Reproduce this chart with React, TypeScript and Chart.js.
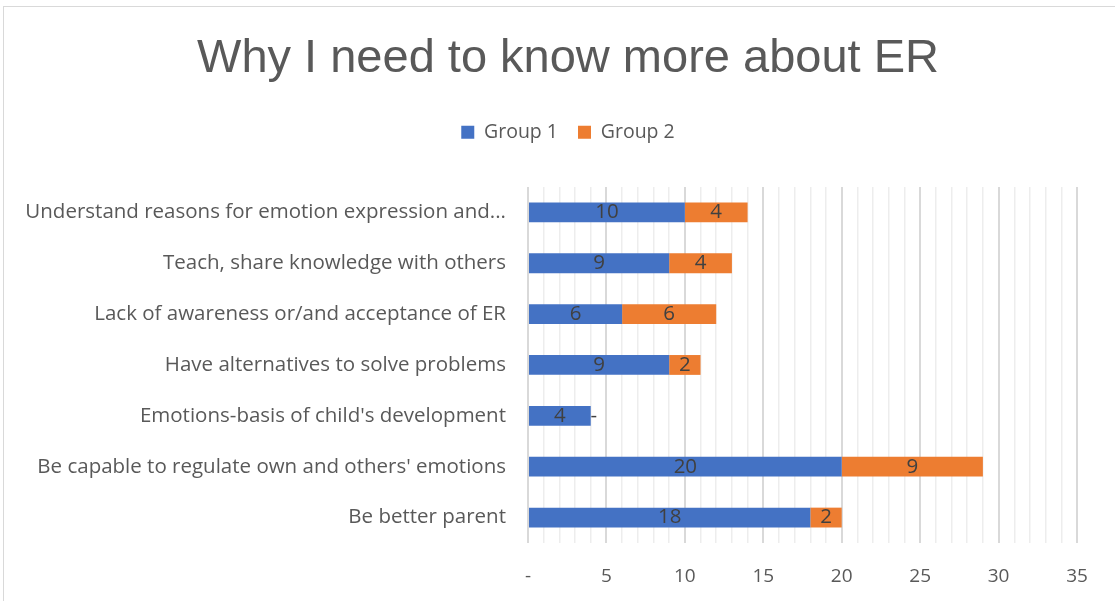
import React, { useEffect, useRef } from "react";
import { Chart, registerables } from "chart.js";

Chart.register(...registerables);

const categories = [
  "Understand reasons for emotion expression and...",
  "Teach, share knowledge with others",
  "Lack of awareness or/and acceptance of ER",
  "Have alternatives to solve problems",
  "Emotions-basis of child's development",
  "Be capable to regulate own and others' emotions",
  "Be better parent",
];
const group1 = [10, 9, 6, 9, 4, 20, 18];
const group2 = [4, 4, 6, 2, 0, 9, 2];
const xTickLabels: Record<number, string> = { 0: "-", 5: "5", 10: "10", 15: "15", 20: "20", 25: "25", 30: "30", 35: "35" };

const FONT = "'Open Sans', 'Liberation Sans', sans-serif";
const TITLE_FONT = "'Liberation Sans', sans-serif";
const TEXT = "#595959";

const labelPlugin = {
  id: "segLabels",
  afterDatasetsDraw(chart: any) {
    const ctx = chart.ctx;
    ctx.save();
    ctx.font = `20.5px ${FONT}`;
    ctx.fillStyle = "#404040";
    ctx.textAlign = "center";
    ctx.textBaseline = "middle";
    chart.data.datasets.forEach((ds: any, di: number) => {
      const meta = chart.getDatasetMeta(di);
      meta.data.forEach((bar: any, i: number) => {
        const v = ds.data[i];
        const cx = (bar.x + bar.base) / 2;
        if (v === 0) {
          ctx.fillText("-", cx + 3, bar.y);
        } else {
          ctx.fillText(String(v), cx, bar.y);
        }
      });
    });
    ctx.restore();
  },
};

const hidden = {
  display: true,
  ticks: { display: false },
  grid: { display: false, drawTicks: false },
  border: { display: false },
};

export default function App() {
  const ref = useRef<HTMLCanvasElement>(null);
  useEffect(() => {
    const chart = new Chart(ref.current!, {
      type: "bar",
      data: {
        labels: categories,
        datasets: [
          { label: "Group 1", data: group1, backgroundColor: "#4472C4", barPercentage: 0.39, categoryPercentage: 1, xAxisID: "x", yAxisID: "y" },
          { label: "Group 2", data: group2, backgroundColor: "#ED7D31", barPercentage: 0.39, categoryPercentage: 1, xAxisID: "x", yAxisID: "y" },
        ],
      },
      options: {
        indexAxis: "y",
        animation: false,
        responsive: false,
        maintainAspectRatio: false,
        layout: { padding: { left: 21, right: 0, top: 0, bottom: 0 } },
        plugins: {
          title: {
            display: true,
            text: "Why I need to know more about ER",
            color: TEXT,
            font: { family: TITLE_FONT, size: 47, weight: "normal" },
            padding: { top: 31, bottom: 15 },
          },
          legend: {
            display: true,
            labels: {
              color: TEXT,
              font: { family: FONT, size: 19.5 },
              boxWidth: 13,
              boxHeight: 13,
              padding: 20,
            },
          },
          tooltip: { enabled: false },
        },
        scales: {
          xTop: {
            type: "linear",
            position: "top",
            ...hidden,
            afterFit: (scale: any) => {
              scale.height = 35;
            },
          },
          yRight: {
            type: "linear",
            position: "right",
            ...hidden,
            afterFit: (scale: any) => {
              scale.width = 38;
            },
          },
          x: {
            type: "linear",
            stacked: true,
            min: 0,
            max: 35,
            position: "bottom",
            ticks: {
              stepSize: 1,
              autoSkip: false,
              maxRotation: 0,
              color: TEXT,
              font: { family: FONT, size: 19 },
              padding: 22,
              callback: (v: any) => (xTickLabels[v] !== undefined ? xTickLabels[v] : ""),
            },
            grid: {
              color: (c: any) => (c.tick && c.tick.value % 5 === 0 ? "#D9D9D9" : "#EDEDED"),
              lineWidth: (c: any) => (c.tick && c.tick.value % 5 === 0 ? 2 : 1.5),
              drawTicks: false,
            },
            border: { display: false },
            afterFit: (scale: any) => {
              scale.height = 58;
            },
          },
          y: {
            type: "category",
            stacked: true,
            position: "left",
            ticks: {
              color: TEXT,
              font: { family: FONT, size: 20.5 },
              padding: 22,
              autoSkip: false,
            },
            grid: { display: false, drawTicks: false },
            border: { display: false },
            afterFit: (scale: any) => {
              scale.width = 507;
            },
          },
        },
      },
      plugins: [labelPlugin],
    });
    return () => chart.destroy();
  }, []);
  return (
    <div style={{ position: "fixed", left: 0, top: 0, width: 1115, height: 601, background: "#fff" }}>
      <div style={{ position: "absolute", left: 3, top: 6, width: 1200, height: 700, border: "1.5px solid #D9D9D9", boxSizing: "border-box" }} />
      <canvas ref={ref} width={1115} height={601} style={{ position: "absolute", left: 0, top: 0 }} />
    </div>
  );
}
